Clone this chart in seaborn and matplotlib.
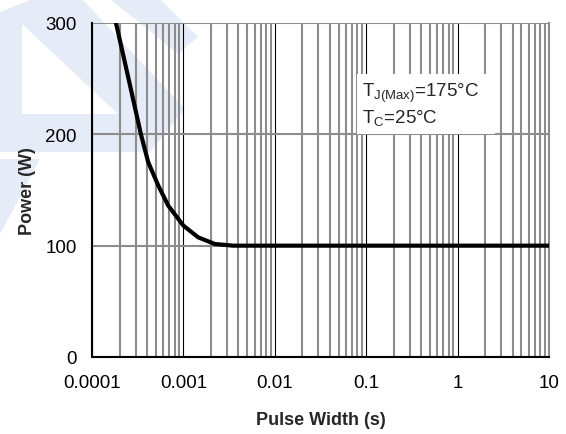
import numpy as np
import pandas as pd
import matplotlib
matplotlib.use("Agg")
import matplotlib.pyplot as plt
import seaborn as sns
from matplotlib.patches import Polygon, Rectangle
from matplotlib.ticker import LogLocator, FixedLocator, NullFormatter

# data
pulse_width = [1.83e-4, 2.51e-4, 3.43e-4, 4.12e-4, 5.31e-4, 6.82e-4,
               1.0e-3, 1.45e-3, 2.21e-3, 3.5e-3, 1e-2, 1e-1, 1.0, 10.0]
power = [300, 250, 200, 175, 154, 136, 118, 107.5, 101.5, 100, 100, 100, 100, 100]
x_ticks = [1e-4, 1e-3, 1e-2, 1e-1, 1, 10]
x_ticklabels = ["0.0001", "0.001", "0.01", "0.1", "1", "10"]
y_ticks = [0, 100, 200, 300]
y_ticklabels = ["0", "100", "200", "300"]
annot_lines = [r"T$_{\mathregular{J(Max)}}$=175°C", r"T$_{\mathregular{C}}$=25°C"]

sns.set_theme(style="white")
plt.rcParams["font.family"] = ["Liberation Sans", "DejaVu Sans"]
plt.rcParams["mathtext.fontset"] = "custom"
plt.rcParams["mathtext.rm"] = "Liberation Sans"

W, H = 566, 435
fig = plt.figure(figsize=(W / 100, H / 100), dpi=100)
fig.patch.set_facecolor("white")

def px(pts):
    return [(x / W, 1 - y / H) for x, y in pts]

wm = "#e6ecf7"
for pts, col in [
    ([(0, 13), (32, 0), (82, 0), (185, 110), (150, 153), (0, 153)], wm),
    ([(22, 25), (22, 115), (118, 115)], "white"),
    ([(110, 0), (160, 0), (198, 38), (178, 55)], wm),
    ([(0, 160), (40, 160), (0, 235)], wm),
]:
    fig.patches.append(Polygon(px(pts), closed=True, transform=fig.transFigure,
                               facecolor=col, edgecolor="none", zorder=0))

L, R, T, B = 92, 549, 24, 358
ax = fig.add_axes([L / W, 1 - B / H, (R - L) / W, (B - T) / H])
ax.set_zorder(2)
ax.set_facecolor("none")

df = pd.DataFrame({"Pulse Width (s)": pulse_width, "Power (W)": power})
sns.lineplot(data=df, x="Pulse Width (s)", y="Power (W)", ax=ax, color="black",
             linewidth=3, zorder=5)
for ln in ax.get_lines():
    ln.set_solid_joinstyle("round")

ax.set_xscale("log")
ax.set_xlim(1e-4, 10)
ax.set_ylim(0, 300)
ax.xaxis.set_major_locator(FixedLocator(x_ticks))
ax.set_xticklabels(x_ticklabels)
ax.xaxis.set_minor_locator(LogLocator(base=10, subs=np.arange(2, 10)))
ax.xaxis.set_minor_formatter(NullFormatter())
ax.set_yticks(y_ticks)
ax.set_yticklabels(y_ticklabels)

ax.set_axisbelow(True)
ax.grid(False)
ax.xaxis.grid(True, which="minor", color="#8c8c8c", linewidth=1.5)
ax.xaxis.grid(True, which="major", color="black", linewidth=0.8)
ax.yaxis.grid(True, which="major", color="#8c8c8c", linewidth=1.5)

ax.spines["top"].set_visible(False)
ax.spines["right"].set_color("#8c8c8c")
ax.spines["right"].set_linewidth(1.5)
for s in ["left", "bottom"]:
    ax.spines[s].set_color("black")
    ax.spines[s].set_linewidth(1.5)

ax.tick_params(axis="both", which="both", length=0, labelsize=13.5, colors="black")
ax.tick_params(axis="x", pad=12)
ax.tick_params(axis="y", pad=11)

ax.set_xlabel("Pulse Width (s)", fontsize=13, fontweight="bold", labelpad=15)
ax.set_ylabel("Power (W)", fontsize=13, fontweight="bold", labelpad=7)

ax.add_patch(Rectangle((0.580, 0.668), 0.882 - 0.580, 0.847 - 0.668,
                       transform=ax.transAxes, facecolor="white", edgecolor="none", zorder=2))
ax.text(0.591, 0.781, annot_lines[0], transform=ax.transAxes, fontsize=13.5,
        va="baseline", ha="left", zorder=6)
ax.text(0.591, 0.701, annot_lines[1], transform=ax.transAxes, fontsize=13.5,
        va="baseline", ha="left", zorder=6)

fig.savefig("out.png", dpi=100)
